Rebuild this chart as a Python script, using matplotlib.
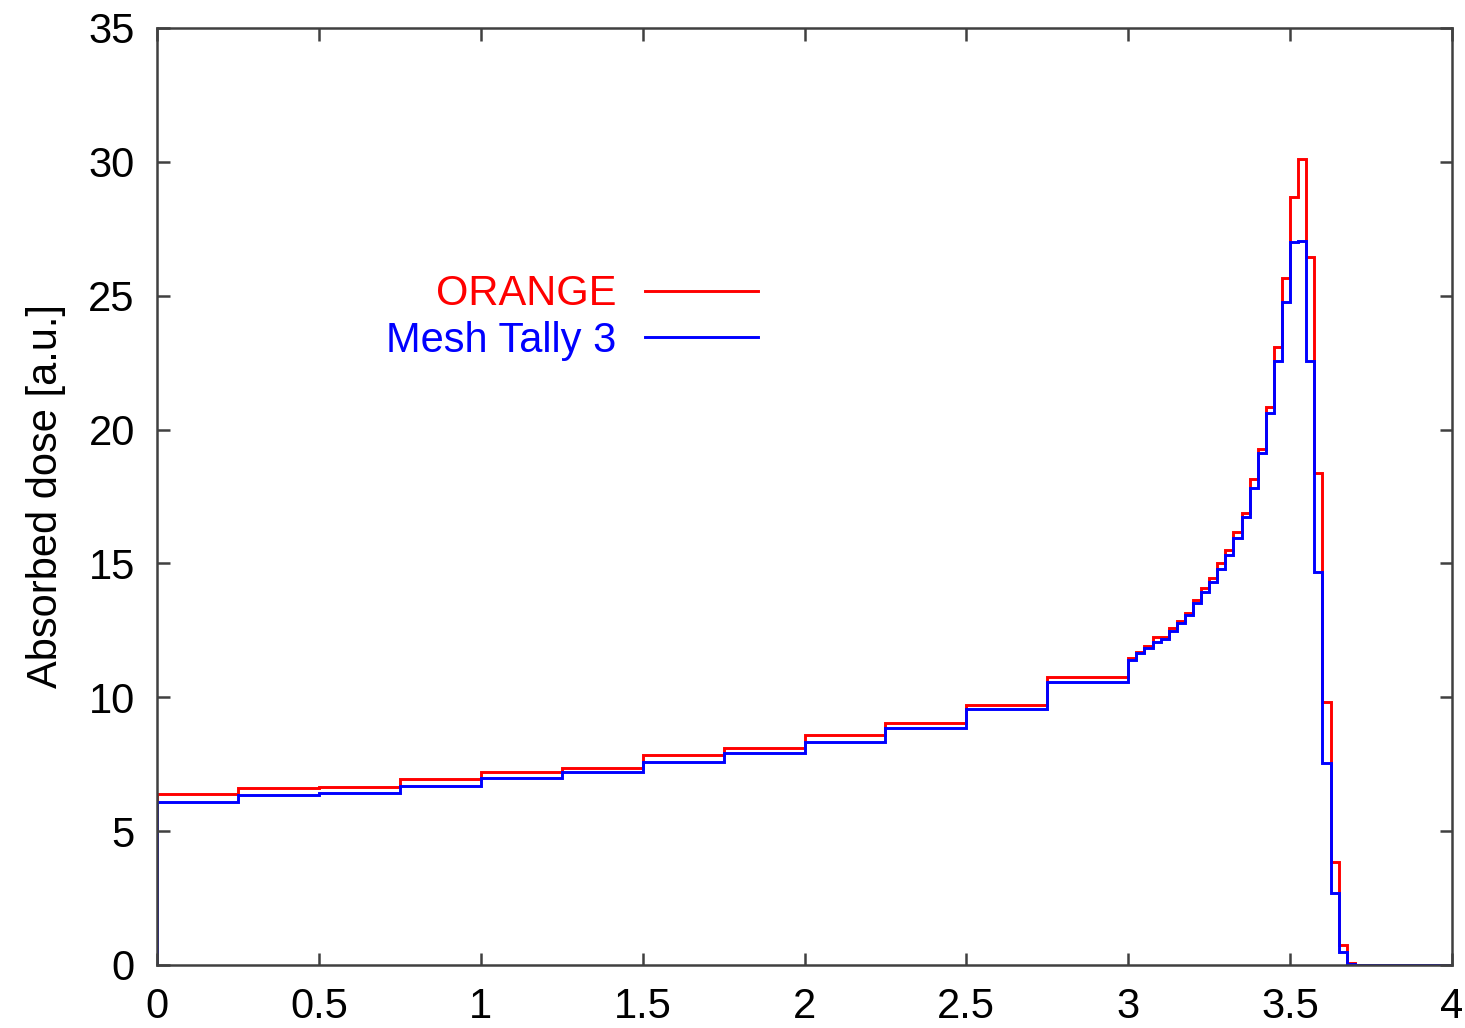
import numpy as np
import matplotlib
matplotlib.use('Agg')
import matplotlib.pyplot as plt

plt.rcParams['font.family'] = ['Liberation Sans', 'DejaVu Sans']

# Bin edges: 0.25 wide up to 3, then 0.025 wide up to 3.7, then one empty bin to 4
coarse_edges = [0.0, 0.25, 0.5, 0.75, 1.0, 1.25, 1.5, 1.75, 2.0, 2.25, 2.5, 2.75]
fine_edges = [3.0, 3.025, 3.05, 3.075, 3.1, 3.125, 3.15, 3.175, 3.2, 3.225,
              3.25, 3.275, 3.3, 3.325, 3.35, 3.375, 3.4, 3.425, 3.45, 3.475,
              3.5, 3.525, 3.55, 3.575, 3.6, 3.625, 3.65, 3.675, 3.7]
end_edges = [4.0]
edges = np.array(coarse_edges + fine_edges + end_edges)

# Absorbed dose per bin
orange_coarse = [6.38, 6.60, 6.66, 6.94, 7.22, 7.35, 7.84, 8.09, 8.59, 9.05, 9.71, 10.77]
orange_fine = [11.46, 11.70, 11.93, 12.24, 12.26, 12.58, 12.83, 13.16, 13.63, 14.07,
               14.44, 15.03, 15.50, 16.19, 16.87, 18.14, 19.26, 20.86, 23.10, 25.65,
               28.68, 30.11, 26.43, 18.39, 9.84, 3.86, 0.75, 0.06]
mesh_coarse = [6.10, 6.35, 6.41, 6.70, 6.97, 7.22, 7.60, 7.91, 8.34, 8.84, 9.55, 10.58]
mesh_fine = [11.39, 11.64, 11.83, 12.08, 12.18, 12.49, 12.76, 13.07, 13.53, 13.94,
             14.30, 14.78, 15.32, 15.94, 16.75, 17.81, 19.11, 20.61, 22.57, 24.78,
             27.02, 27.06, 22.57, 14.69, 7.53, 2.68, 0.50, 0.02]
tail = [0.0]

orange = np.array(orange_coarse + orange_fine + tail)
mesh = np.array(mesh_coarse + mesh_fine + tail)

fig = plt.figure(figsize=(14.65, 10.28), dpi=100)
ax = fig.add_axes([0.1072, 0.0613, 0.8839, 0.9115])

ax.stairs(orange, edges, baseline=0, color='#ff0000', lw=2.1, label='ORANGE')
ax.stairs(mesh, edges, baseline=0, color='#0000ff', lw=2.1, label='Mesh Tally 3')

ax.set_xlim(0, 4)
ax.set_ylim(0, 35)
ax.set_xticks(np.arange(0, 4.01, 0.5))
ax.set_xticklabels(['0', '0.5', '1', '1.5', '2', '2.5', '3', '3.5', '4'])
ax.set_yticks(np.arange(0, 36, 5))

frame_col = '#404040'
for s in ax.spines.values():
    s.set_color(frame_col)
    s.set_linewidth(1.8)
ax.tick_params(direction='in', length=9, width=1.8, color=frame_col,
               top=True, right=True, labelsize=30, pad=16)

ax.set_ylabel('Absorbed dose [a.u.]', fontsize=30, labelpad=16)

leg = ax.legend(loc='center right', bbox_to_anchor=(0.464, 0.691),
                frameon=False, markerfirst=False, fontsize=30,
                handlelength=2.7, handletextpad=0.7, labelspacing=0.15,
                borderpad=0, borderaxespad=0, labelcolor='linecolor')

fig.savefig('out.png', dpi=100)
